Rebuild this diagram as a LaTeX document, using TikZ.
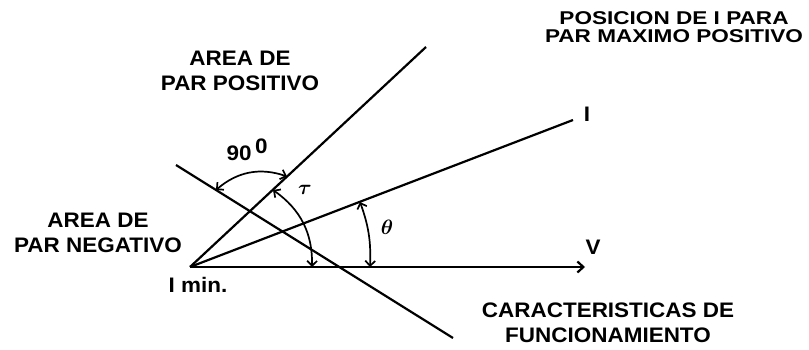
\documentclass[tikz,border=0pt]{standalone}
\usepackage{fontspec}
\setmainfont{Liberation Sans}[BoldFeatures={FakeStretch=1.07}]
\newfontfamily\widesans{Liberation Sans}[BoldFeatures={FakeStretch=1.22}]
\usetikzlibrary{arrows.meta}

\begin{document}
\begin{tikzpicture}[
  x=1pt,y=1pt,
  ray/.style={line width=2.2pt,black},
  angarc/.style={line width=1.7pt,{Straight Barb[length=5pt,width=10pt]}-{Straight Barb[length=5pt,width=10pt]}},
  note/.style={font=\fontsize{21}{25}\selectfont\bfseries,align=center,inner sep=0pt},
  sym/.style={font=\fontsize{20}{24}\selectfont\boldmath,inner sep=0pt}
]
\useasboundingbox (0,0) rectangle (809,349);
% phasor lines
\coordinate (o) at (190,82);
\coordinate (v) at (585,82);
\coordinate (u) at (426,302);
\coordinate (i) at (573,229);
\coordinate (pa) at (176,184);
\coordinate (pb) at (453,11);
\draw[ray] (o) -- (u);
\draw[ray] (o) -- (i);
\draw[ray] (pa) -- (pb);
\draw[ray,-{Straight Barb[length=6pt,width=11pt]}] (o) -- (v);
% angle marks
\coordinate (q1) at (216,159);
\coordinate (q2) at (287,172.5);
\coordinate (q3) at (273,159);
\coordinate (q4) at (312,82);
\coordinate (q5) at (360,147);
\coordinate (q6) at (370,82);
\draw[angarc] (q1) to[bend left=30] (q2);
\draw[angarc] (q3) to[bend left=28] (q4);
\draw[angarc] (q5) to[bend left=11] (q6);
% labels
\node[note] (pos) at (240,278) {AREA DE\\PAR POSITIVO};
\node[note] (neg) at (98,116) {AREA DE\\PAR NEGATIVO};
\node[note,font=\widesans\fontsize{18.5}{18.5}\selectfont\bfseries] (max) at (674,322) {POSICION DE I PARA\\PAR MAXIMO POSITIVO};
\node[note] (car) at (608,26) {CARACTERISTICAS DE\\FUNCIONAMIENTO};
\node[note] (ilbl) at (587,235) {I};
\node[note] (vlbl) at (593,102) {V};
\node[note] (imin) at (198,64) {I min.};
\node[note] (deg) at (247,199) {90\,\raisebox{7pt}{0}};
\node[sym] (tau) at (305,159) {$\tau$};
\node[sym] (theta) at (387,122) {$\theta$};
\end{tikzpicture}
\end{document}
